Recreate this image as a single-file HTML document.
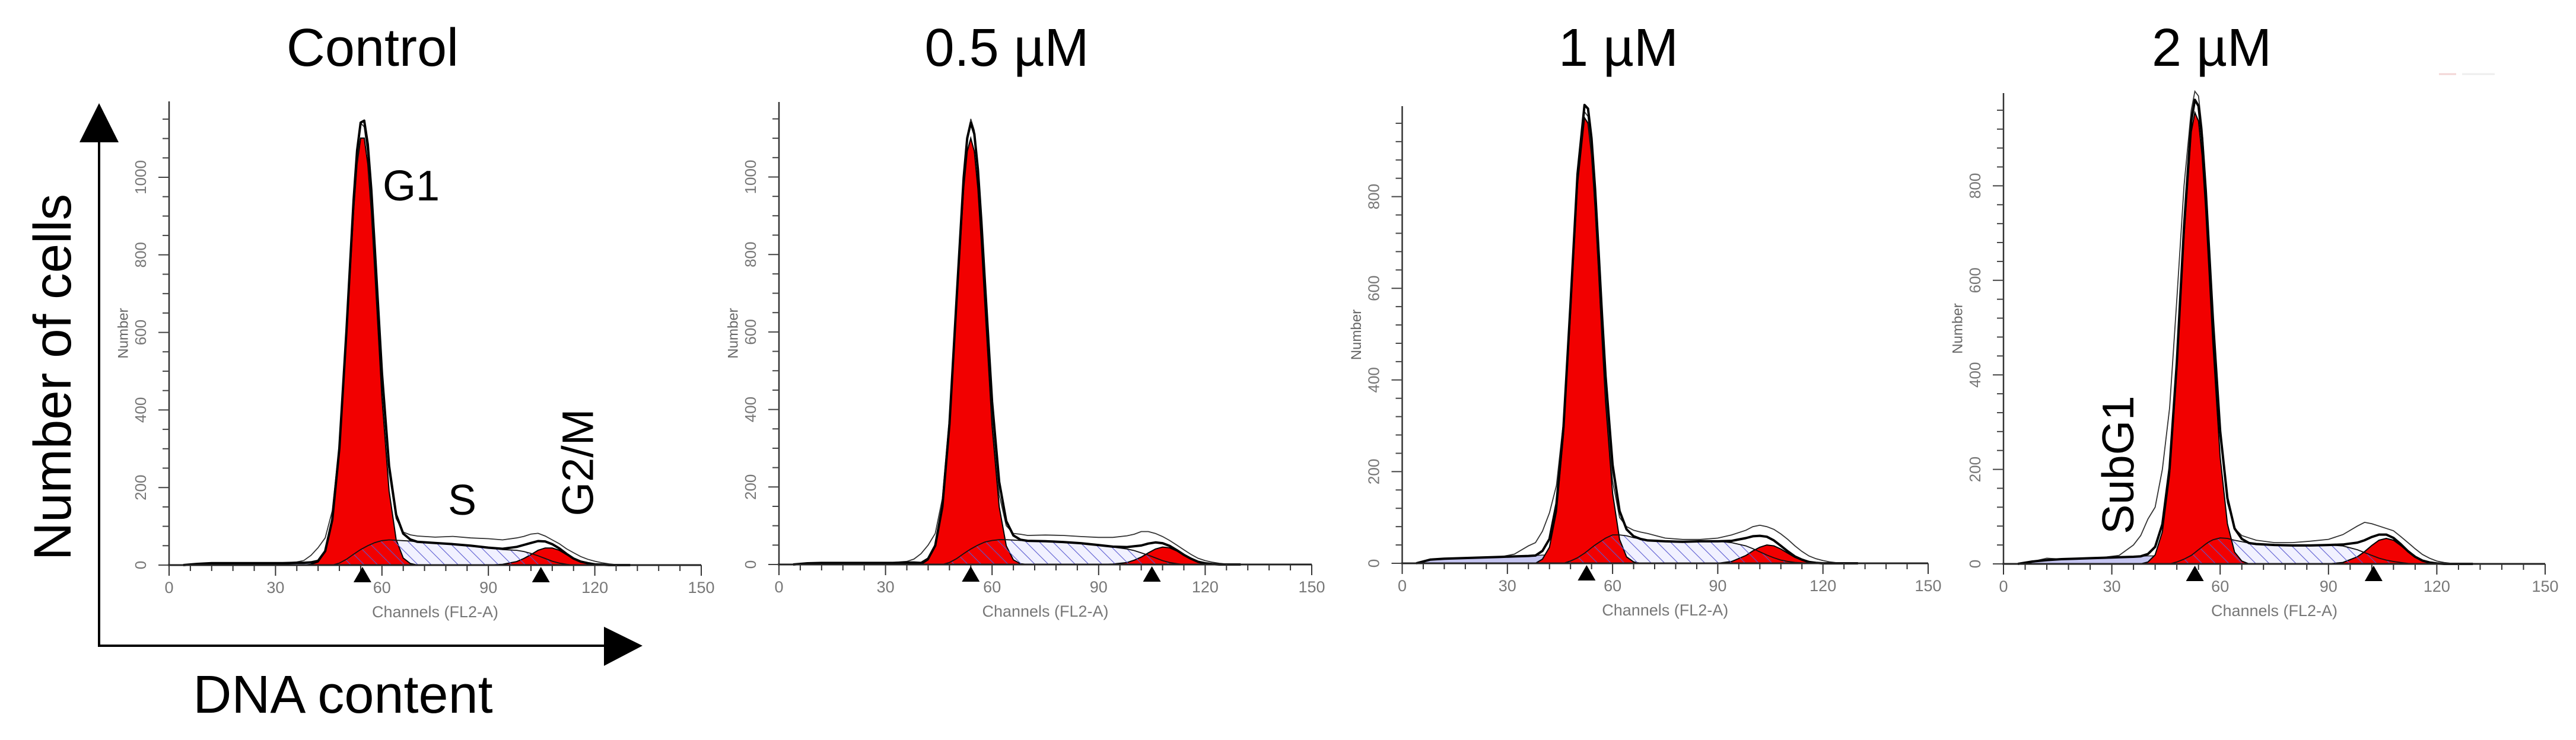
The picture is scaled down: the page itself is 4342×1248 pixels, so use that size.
<!DOCTYPE html>
<html><head><meta charset="utf-8"><style>
html,body{margin:0;padding:0;background:#fff;}
svg{display:block;font-family:"Liberation Sans",Arial,sans-serif;}
</style></head><body>
<svg id="fig" width="4342" height="1248" viewBox="0 0 4342 1248" xmlns="http://www.w3.org/2000/svg">
<defs>
<pattern id="hatch" width="16" height="16" patternUnits="userSpaceOnUse" patternTransform="rotate(-45)">
<line x1="0" y1="0" x2="0" y2="16" stroke="#5a5ad0" stroke-width="2.2"/>
</pattern>
</defs>
<g>
<line x1="167" y1="238" x2="167" y2="1089" stroke="#000" stroke-width="4"/>
<polygon points="134,240 200,240 167,174" fill="#000"/>
<line x1="165" y1="1089" x2="1020" y2="1089" stroke="#000" stroke-width="4"/>
<polygon points="1018,1057 1018,1123 1083,1089" fill="#000"/>
<text x="88" y="636" font-size="89" text-anchor="middle" dominant-baseline="central" transform="rotate(-90 88 636)">Number of cells</text>
<text x="578" y="1202" font-size="90" text-anchor="middle">DNA content</text>
</g>
<line x1="4111" y1="125" x2="4140" y2="125" stroke="#f3d6d6" stroke-width="3"/>
<line x1="4150" y1="125" x2="4205" y2="125" stroke="#eeeeee" stroke-width="3"/>
</svg>
<script>
const GRID=[4,8,12,16,20,24,28,32,36, 38,40,42,44,46,48,50,52, 53,54,55,56,57,58, 60,62,64,66,68,70, 75,80,85,90,94, 98,100,102,104,106,108,110,112,114,116,118,120,122,124,126,128,130];

// Control
const ctlRaw=[0,3,6,5,5,6,5,5,8, 12,25,45,70,140,310,600,920, 1040,1140,1130,1060,930,780, 470,240,120,85,78,75, 72,74,70,68,65, 70,74,80,82,75,65,55,42,32,22,15,10,6,3,1,0,0];
const ctlSub=[0,3,5,5,5,5,5,5,6, 6,5,3,1,0,0,0,0, 0,0,0,0,0,0, 0,0,0,0,0,0, 0,0,0,0,0, 0,0,0,0,0,0,0,0,0,0,0,0,0,0,0,0,0];
const ctlG1=[0,0,0,0,0,0,0,0,0, 0,2,8,35,117,296,590,913, 1035,1101,1101,1035,913,757, 432,191,66,18,4,0, 0,0,0,0,0, 0,0,0,0,0,0,0,0,0,0,0,0,0,0,0,0,0];
const ctlS=[0,0,0,0,0,0,0,0,0, 0,0,0,0,0,5,15,28, 34,40,45,50,54,58, 63,65,64,63,62,60, 57,54,50,45,40, 38,35,30,24,17,10,5,2,0,0,0,0,0,0,0,0,0];
const ctlG2=[0,0,0,0,0,0,0,0,0, 0,0,0,0,0,0,0,0, 0,0,0,0,0,0, 0,0,0,0,0,0, 0,0,0,0,2, 9,17,27,38,44,44,38,27,17,9,5,2,1,0,0,0,0];

// 0.5 uM
const halfRaw=[0,3,4,5,5,5,5,5,8, 14,28,50,80,170,380,690,990, 1090,1150,1120,1000,860,700, 390,180,100,80,78,75, 76,75,72,70,70, 74,78,85,85,80,72,62,50,38,26,16,10,6,3,1,0,0];
const halfSub=[0,3,4,4,4,4,4,4,5, 5,4,3,1,0,0,0,0, 0,0,0,0,0,0, 0,0,0,0,0,0, 0,0,0,0,0, 0,0,0,0,0,0,0,0,0,0,0,0,0,0,0,0,0];
const halfG1=[0,0,0,0,0,0,0,0,0, 0,0,12,48,149,358,668,970, 1066,1100,1066,970,830,668, 358,149,48,12,2,0, 0,0,0,0,0, 0,0,0,0,0,0,0,0,0,0,0,0,0,0,0,0,0];
const halfS=[0,0,0,0,0,0,0,0,0, 0,0,0,0,0,5,15,28, 34,40,45,50,54,58, 62,64,64,63,62,61, 60,58,55,50,45, 40,36,30,24,17,10,5,2,0,0,0,0,0,0,0,0,0];
const halfG2=[0,0,0,0,0,0,0,0,0, 0,0,0,0,0,0,0,0, 0,0,0,0,0,0, 0,0,0,0,0,0, 0,0,0,0,1, 5,11,19,30,40,45,43,35,25,15,7,3,1,0,0,0,0];

// 1 uM
const oneRaw=[0,8,10,11,12,12,14,20,38, 45,70,110,170,310,560,840,985, 975,900,790,650,510,380, 180,100,80,72,68,65, 55,52,52,55,62, 72,80,83,80,74,64,52,38,26,16,10,6,3,1,0,0,0];
const oneSub=[0,8,10,11,12,13,14,15,16, 17,18,18,17,16,14,10,6, 4,2,1,0,0,0, 0,0,0,0,0,0, 0,0,0,0,0, 0,0,0,0,0,0,0,0,0,0,0,0,0,0,0,0,0];
const oneG1=[0,0,0,0,0,0,0,0,0, 0,9,35,113,282,547,827,972, 960,891,776,636,489,353, 153,52,14,3,0,0, 0,0,0,0,0, 0,0,0,0,0,0,0,0,0,0,0,0,0,0,0,0,0];
const oneS=[0,0,0,0,0,0,0,0,0, 0,0,0,0,0,5,12,22, 28,34,40,45,50,55, 62,62,60,56,53,50, 48,47,48,48,45, 38,32,25,18,12,7,4,2,1,0,0,0,0,0,0,0,0];
const oneG2=[0,0,0,0,0,0,0,0,0, 0,0,0,0,0,0,0,0, 0,0,0,0,0,0, 0,0,0,0,0,0, 0,0,0,0,4, 17,27,35,40,38,31,22,13,7,3,1,0,0,0,0,0,0];

// 2 uM
const twoRaw=[0,5,12,10,11,12,14,18,40, 60,95,120,200,330,560,800,960, 1000,990,920,800,660,520, 280,130,75,60,55,50, 45,45,48,52,62, 80,88,85,80,75,70,58,45,32,20,12,6,3,1,0,0,0];
const twoSub=[0,5,8,10,11,12,13,14,15, 16,17,17,16,14,12,9,5, 3,2,1,0,0,0, 0,0,0,0,0,0, 0,0,0,0,0, 0,0,0,0,0,0,0,0,0,0,0,0,0,0,0,0,0];
const twoG1=[0,0,0,0,0,0,0,0,0, 0,4,19,68,189,411,694,914, 955,937,864,749,609,466, 226,85,25,6,0,0, 0,0,0,0,0, 0,0,0,0,0,0,0,0,0,0,0,0,0,0,0,0,0];
const twoS=[0,0,0,0,0,0,0,0,0, 0,0,0,0,0,4,10,18, 24,30,36,42,47,51, 55,54,50,47,44,42, 40,39,39,40,38, 30,24,18,12,8,5,3,1,0,0,0,0,0,0,0,0,0];
const twoG2=[0,0,0,0,0,0,0,0,0, 0,0,0,0,0,0,0,0, 0,0,0,0,0,0, 0,0,0,0,0,0, 0,0,0,0,3, 15,26,39,50,54,50,39,26,15,7,3,1,0,0,0,0,0];

const titles=["Control","0.5 µM","1 µM","2 µM"];
const yLabelMax=[1000,1000,800,800];
const yMinorStep=[50,50,40,40];
const markerG1=[54.5,54,52.6,53];
const markerG2=[104.8,105,null,102.5];
const xTickLabels=[0,30,60,90,120,150];

const panelData=[
 {raw:ctlRaw,sub:ctlSub,g1:ctlG1,s:ctlS,g2:ctlG2},
 {raw:halfRaw,sub:halfSub,g1:halfG1,s:halfS,g2:halfG2},
 {raw:oneRaw,sub:oneSub,g1:oneG1,s:oneS,g2:oneG2},
 {raw:twoRaw,sub:twoSub,g1:twoG1,s:twoS,g2:twoG2}
];
const geo=[
 {x0:285,x1:1182,base:953,ppu:0.654,top:171,tx:628},
 {x0:1313,x1:2211,base:952,ppu:0.6535,top:172,tx:1697},
 {x0:2363.5,x1:3250,base:950,ppu:0.773,top:179,tx:2728},
 {x0:3377,x1:4290,base:951,ppu:0.797,top:157,tx:3728}
];

const NS="http://www.w3.org/2000/svg";
const svg=document.getElementById('fig');
function mk(tag,attrs,parent){const e=document.createElementNS(NS,tag);for(const k in attrs)e.setAttribute(k,attrs[k]);(parent||svg).appendChild(e);return e;}

geo.forEach((g,pi)=>{
 const d=panelData[pi];
 const X=c=>g.x0+(c/150)*(g.x1-g.x0);
 const Y=v=>g.base-v*g.ppu;
 const grp=mk('g',{});
 
 
 function area(arr){let p='M'+X(GRID[0])+','+Y(0);GRID.forEach((c,i)=>{p+=' L'+X(c).toFixed(1)+','+Y(arr[i]).toFixed(1);});p+=' L'+X(GRID[GRID.length-1])+','+Y(0)+' Z';return p;}
 function line(arr){let p='';GRID.forEach((c,i)=>{p+=(i?' L':'M')+X(c).toFixed(1)+','+Y(arr[i]).toFixed(1);});return p;}
 const sub=mk('path',{d:area(d.sub),fill:'#c4c4f0',stroke:'#222','stroke-width':1.5},grp);
 
 
 const sb=mk('path',{d:area(d.s),fill:'#f1f1ff',stroke:'none'},grp);
 
 
 const g1=mk('path',{d:area(d.g1),fill:'#f20000',stroke:'#000','stroke-width':2},grp);
 
 
 const g2=mk('path',{d:area(d.g2),fill:'#f20000',stroke:'#000','stroke-width':2},grp);
 
 
 const sh=mk('path',{d:area(d.s),fill:'url(#hatch)',stroke:'#111','stroke-width':1.8},grp);
 
 
 const raw=mk('path',{d:line(d.raw),fill:'none',stroke:'#333','stroke-width':1.8},grp);
 
 
 const sum=GRID.map((c,i)=>d.sub[i]+d.g1[i]+d.s[i]+d.g2[i]);
 const fit=mk('path',{d:line(sum),fill:'none',stroke:'#000','stroke-width':4,'stroke-linejoin':'round'},grp);
 
 
 const ya=mk('line',{x1:g.x0,y1:g.top,x2:g.x0,y2:g.base,stroke:'#333','stroke-width':2.5},grp);
 
 
 const xa=mk('line',{x1:g.x0-2,y1:g.base,x2:g.x1,y2:g.base,stroke:'#222','stroke-width':3},grp);
 
 
 const ymax=(g.base-g.top)/g.ppu;
 for(let v=0;v<=ymax;v+=yMinorStep[pi]){
  const major=(v%200===0);
  const t=mk('line',{x1:g.x0-(major?18:11),y1:Y(v),x2:g.x0,y2:Y(v),stroke:'#444','stroke-width':2},grp);
  
  
  if(major && v<=yLabelMax[pi]){
   const lx=g.x0-48;
   const tl=mk('text',{x:lx,y:Y(v),'font-size':26,fill:'#777','text-anchor':'middle','dominant-baseline':'central',transform:`rotate(-90 ${lx} ${Y(v)})`},grp);
   tl.textContent=v;
   
   
  }
 }
 const nx=g.x0-77, ny=(g.top+g.base)/2;
 const nl=mk('text',{x:nx,y:ny,'font-size':24,fill:'#666','text-anchor':'middle','dominant-baseline':'central',transform:`rotate(-90 ${nx} ${ny})`},grp);
 nl.textContent='Number';
 
 
 for(let c=0;c<=150;c+=6){
  const major=(c%30===0);
  const t=mk('line',{x1:X(c),y1:g.base,x2:X(c),y2:g.base+(major?18:10),stroke:'#333','stroke-width':2},grp);
  
  
 }
 xTickLabels.forEach(c=>{
  const tl=mk('text',{x:X(c),y:g.base+47,'font-size':27,fill:'#777','text-anchor':'middle'},grp);
  tl.textContent=c;
  
  
 });
 const cl=mk('text',{x:X(75),y:g.base+88,'font-size':27,fill:'#777','text-anchor':'middle'},grp);
 cl.textContent='Channels (FL2-A)';
 
 
 [markerG1[pi],markerG2[pi]].forEach(m=>{
  if(m===null)return;
  const mx=X(m);
  const tri=mk('polygon',{points:`${mx-15},${g.base+29} ${mx+15},${g.base+29} ${mx},${g.base+3}`,fill:'#000'},grp);
  
  
 });
 const tt=mk('text',{x:g.tx,y:111,'font-size':90,fill:'#000','text-anchor':'middle'},grp);
 tt.textContent=titles[pi];
 
 
});

function ann(txt,x,y,size,rot,name){
 const a={x:x,y:y,'font-size':size,fill:'#000','text-anchor':'middle','dominant-baseline':rot?'central':'auto'};
 if(rot)a.transform=`rotate(-90 ${x} ${y})`;
 const t=mk('text',a);
 t.textContent=txt;
 
 
}
ann('G1',693,338,72,false,'g1-annotation');
ann('S',779,868,72,false,'s-annotation');
ann('G2/M',974,780,74,true,'g2m-annotation');
ann('SubG1',3570,784,75,true,'subg1-annotation');
</script>
</body></html>
